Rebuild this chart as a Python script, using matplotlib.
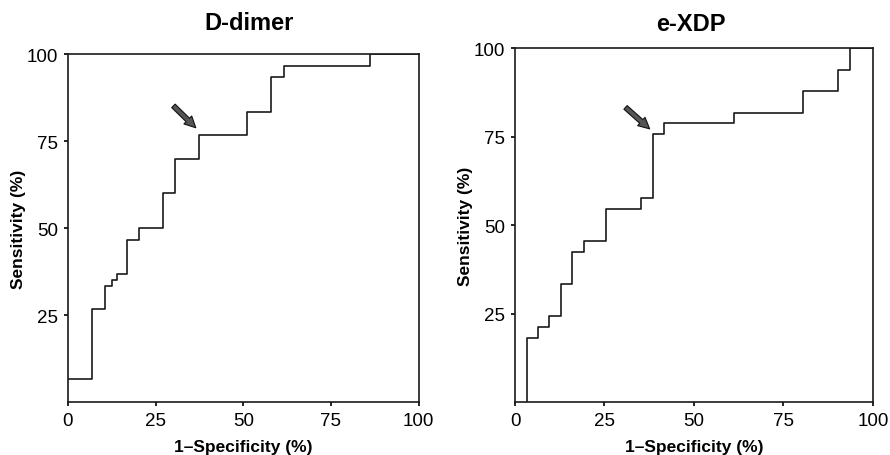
import matplotlib
matplotlib.use("Agg")
import matplotlib.pyplot as plt

plt.rcParams['font.family'] = ['Liberation Sans', 'DejaVu Sans']

# D-dimer ROC steps (1-specificity %, sensitivity %)
ddimer_fpr = [0, 6.8, 6.8, 10.5, 10.5, 12.5, 12.5, 14.0, 14.0, 16.9, 16.9, 20.2, 20.2,
              27.1, 27.1, 30.4, 30.4, 37.3, 37.3, 51.1, 51.1, 58.0, 58.0, 61.5, 61.5,
              86.0, 86.0, 100]
ddimer_tpr = [6.7, 6.7, 26.7, 26.7, 33.3, 33.3, 35.0, 35.0, 36.7, 36.7, 46.7, 46.7, 50.0,
              50.0, 60.0, 60.0, 70.0, 70.0, 76.7, 76.7, 83.3, 83.3, 93.3, 93.3, 96.7,
              96.7, 100, 100]

# e-XDP ROC steps
exdp_fpr = [3.3, 3.3, 6.5, 6.5, 9.6, 9.6, 12.9, 12.9, 16.0, 16.0, 19.3, 19.3, 25.5,
            25.5, 35.1, 35.1, 38.5, 38.5, 41.7, 41.7, 61.1, 61.1, 80.5, 80.5, 90.2,
            90.2, 93.5, 93.5, 100]
exdp_tpr = [0, 18.2, 18.2, 21.2, 21.2, 24.2, 24.2, 33.3, 33.3, 42.4, 42.4, 45.5, 45.5,
            54.5, 54.5, 57.6, 57.6, 75.8, 75.8, 78.8, 78.8, 81.8, 81.8, 87.9, 87.9,
            93.9, 93.9, 100, 100]

# arrow (tail, tip) in data units
ddimer_arrow = ((29.5, 85.7), (37.0, 78.3))
exdp_arrow = ((30.3, 83.8), (38.2, 76.7))

panels = [
    ("D-dimer", ddimer_fpr, ddimer_tpr, ddimer_arrow, [0.0764, 0.116, 0.394, 0.763], (0.280, 0.948)),
    ("e-XDP", exdp_fpr, exdp_tpr, exdp_arrow, [0.5787, 0.116, 0.402, 0.776], (0.776, 0.946)),
]

fig = plt.figure(figsize=(8.9, 4.56), dpi=100)

for title, fpr, tpr, arrow, rect, title_pos in panels:
    ax = fig.add_axes(rect)
    ax.plot(fpr, tpr, color='#1a1a1a', lw=1.2)
    ax.set_xlim(0, 100)
    ax.set_ylim(0, 100)
    ax.set_xticks([0, 25, 50, 75, 100])
    ax.set_yticks([25, 50, 75, 100])
    ax.tick_params(labelsize=13.5, length=3, width=1.2, direction='out', pad=4)
    for s in ax.spines.values():
        s.set_linewidth(1.2)
        s.set_color('#1a1a1a')
    fig.text(title_pos[0], title_pos[1], title, fontsize=17, fontweight='bold',
             ha='center', va='center')
    ax.set_xlabel('1\u2013Specificity (%)', fontsize=12.5, fontweight='bold', labelpad=7)
    ax.set_ylabel('Sensitivity (%)', fontsize=12.5, fontweight='bold', labelpad=1)
    (tx, ty), (hx, hy) = arrow
    ax.annotate('', xy=(hx, hy), xytext=(tx, ty),
                arrowprops=dict(arrowstyle='simple,head_length=0.8,head_width=0.8,tail_width=0.35',
                                fc='#555555', ec='#111111', lw=0.8))

fig.savefig('out.png', dpi=100)
